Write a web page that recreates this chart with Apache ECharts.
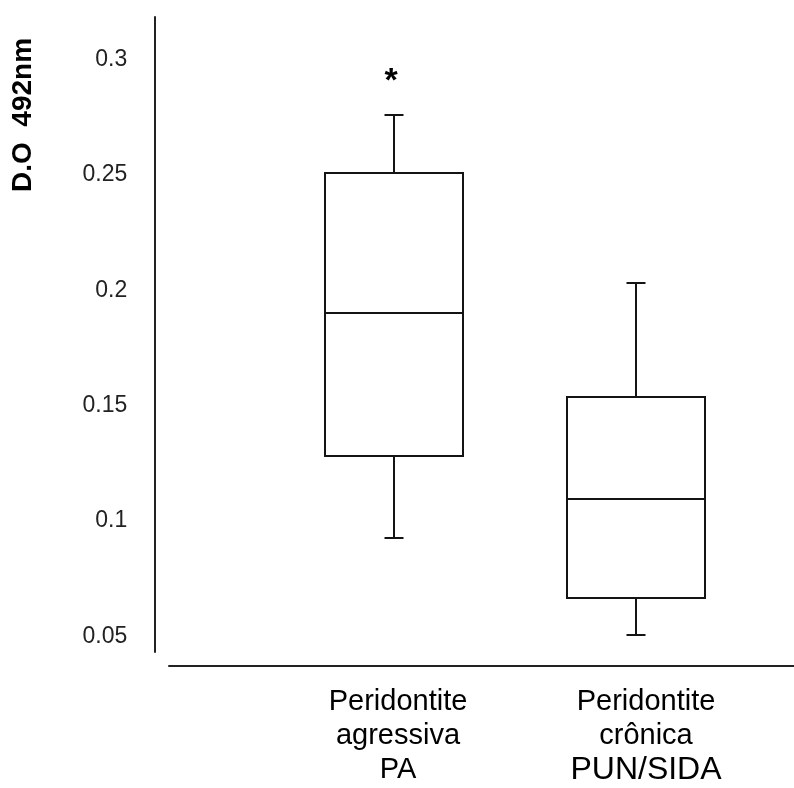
<!DOCTYPE html>
<html>
<head>
<meta charset="utf-8">
<script src="https://cdn.jsdelivr.net/npm/echarts@6/dist/echarts.min.js"></script>
<style>
html,body{margin:0;padding:0;background:#fff;}
#chart{width:794px;height:788px;}
</style>
</head>
<body>
<div id="chart"></div>
<script>
// ---- data ----
const categories = ['Peridontite\nagressiva\nPA', 'Peridontite\ncrônica\nPUN/SIDA'];
const whiskerLow  = [0.0927, 0.0507];
const q1Values    = [0.128, 0.0667];
const medianVals  = [0.190, 0.1096];
const q3Values    = [0.2508, 0.1538];
const whiskerHigh = [0.276, 0.203];
const significance = ['*', ''];
const yTickValues = [0.05, 0.1, 0.15, 0.2, 0.25, 0.3];
const yAxisTitle = 'D.O  492nm';

const boxData = categories.map((c, i) =>
  [i, whiskerLow[i], q1Values[i], medianVals[i], q3Values[i], whiskerHigh[i]]);

const chart = echarts.init(document.getElementById('chart'), null, {renderer: 'canvas'});
const LINE = '#141414';
const FONT = '"Liberation Sans", Arial, sans-serif';

chart.setOption({
  animation: false,
  backgroundColor: '#fff',
  grid: [
    {left: 273.25, right: 37.75, top: 17, bottom: 136},
    {left: 169, right: 0, top: 600, bottom: 122}
  ],
  xAxis: [
    {
      type: 'category', gridIndex: 0, data: categories, boundaryGap: true,
      axisLine: {show: false}, axisTick: {show: false}, splitLine: {show: false},
      axisLabel: {
        margin: 33, interval: 0,
        formatter: function (v, idx) {
          const st = idx === 0 ? 'a' : 'b';
          return v.split('\n').map(l => '{' + (l === 'PUN/SIDA' ? st + 'big' : st) + '|' + l + '}').join('\n');
        },
        rich: {
          a: {fontSize: 29, lineHeight: 34, color: '#000', fontFamily: FONT, padding: [0, 0, 0, 8]},
          b: {fontSize: 29, lineHeight: 34, color: '#000', fontFamily: FONT, padding: [0, 0, 0, 21]},
          abig: {fontSize: 32, lineHeight: 34, color: '#000', fontFamily: FONT, padding: [0, 0, 0, 8]},
          bbig: {fontSize: 32, lineHeight: 34, color: '#000', fontFamily: FONT, padding: [0, 0, 0, 21]}
        }
      }
    },
    {
      type: 'value', gridIndex: 1, min: 0, max: 1,
      axisLine: {show: true, lineStyle: {color: '#222', width: 2}},
      axisTick: {show: false}, axisLabel: {show: false}, splitLine: {show: false}
    }
  ],
  yAxis: [
    {
      type: 'value', gridIndex: 0, min: 0.04328, max: 0.31841, offset: 119,
      axisLine: {show: true, lineStyle: {color: '#222', width: 2}},
      axisTick: {show: false},
      splitLine: {show: false},
      axisLabel: {
        customValues: yTickValues,
        margin: 27, fontSize: 23, color: '#222', fontFamily: FONT,
        formatter: v => String(+v.toFixed(2))
      }
    },
    {type: 'value', gridIndex: 1, show: false}
  ],
  graphic: [{
    type: 'text', x: 23, y: 115, rotation: Math.PI / 2,
    style: {text: yAxisTitle, font: 'bold 28px ' + FONT, fill: '#000',
      textAlign: 'center', textVerticalAlign: 'middle'}
  }],
  series: [{
    type: 'custom', xAxisIndex: 0, yAxisIndex: 0,
    data: boxData,
    renderItem: function (params, api) {
      const idx = api.value(0);
      const r = v => Math.round(v);
      const yLow = r(api.coord([idx, api.value(1)])[1]);
      const yQ1 = r(api.coord([idx, api.value(2)])[1]);
      const yMed = r(api.coord([idx, api.value(3)])[1]);
      const yQ3 = r(api.coord([idx, api.value(4)])[1]);
      const yHigh = r(api.coord([idx, api.value(5)])[1]);
      const band = api.size([1, 0])[0];
      const hw = band * 0.571 / 2;
      const cw = 9.5;
      const cx = r(api.coord([idx, api.value(3)])[0]);
      const xl = r(cx - hw), xr = r(cx + hw);
      const ls = {stroke: LINE, lineWidth: 2, fill: null};
      const children = [
        {type: 'rect', shape: {x: xl, y: yQ3, width: xr - xl, height: yQ1 - yQ3}, style: ls},
        {type: 'line', shape: {x1: xl, y1: yMed, x2: xr, y2: yMed}, style: ls},
        {type: 'line', shape: {x1: cx, y1: yQ3, x2: cx, y2: yHigh}, style: ls},
        {type: 'line', shape: {x1: cx, y1: yQ1, x2: cx, y2: yLow}, style: ls},
        {type: 'line', shape: {x1: cx - cw, y1: yHigh, x2: cx + cw, y2: yHigh}, style: ls},
        {type: 'line', shape: {x1: cx - cw, y1: yLow, x2: cx + cw, y2: yLow}, style: ls}
      ];
      const sig = significance[params.dataIndex];
      if (sig) {
        children.push({type: 'text', x: cx - 3, y: yHigh - 50,
          style: {text: sig, font: 'bold 34px ' + FONT, fill: '#000', textAlign: 'center', textVerticalAlign: 'top'}});
      }
      return {type: 'group', children: children};
    }
  }]
});
</script>
</body>
</html>
